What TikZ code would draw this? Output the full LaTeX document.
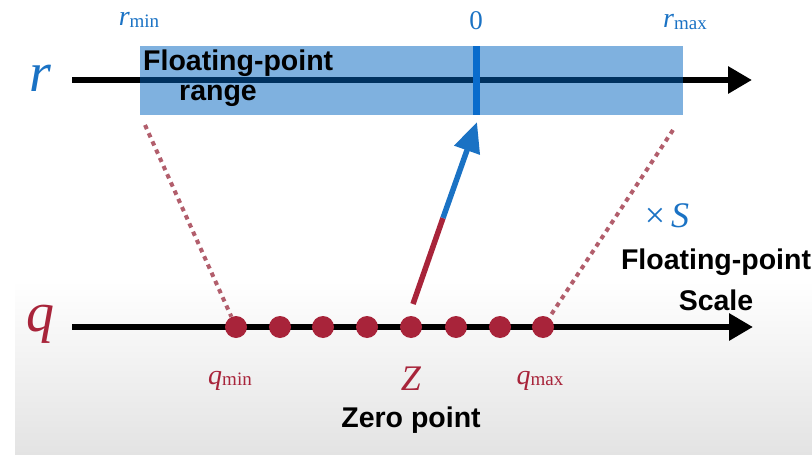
\documentclass[tikz,border=0pt]{standalone}
\usepackage{fontspec}
\setmainfont{Liberation Serif}
\setsansfont{Liberation Sans}
\usetikzlibrary{arrows.meta}
\definecolor{rblue}{HTML}{1A72C4}
\definecolor{tickblue}{HTML}{0A6CCC}
\definecolor{qred}{HTML}{A8243A}
\definecolor{dotred}{HTML}{B25E6C}
\definecolor{rangefill}{rgb}{0,0.39,0.75}
\newcommand{\symb}[3]{{\fontsize{#1}{#1}\selectfont\itshape #2}\raisebox{-0.3ex}{\fontsize{19}{19}\selectfont #3}}
\tikzset{
  axis/.style={line width=6pt,-{Triangle[length=24pt,width=26pt]}},
  qdot/.style={circle,fill=qred,minimum size=22pt,inner sep=0pt},
  dotline/.style={dotred,line width=4pt,dash pattern=on 4.5pt off 4.5pt},
  sansb/.style={font=\fontsize{28.5}{30}\selectfont\sffamily\bfseries,inner sep=0pt},
  lab/.style={inner sep=0pt}
}
\begin{document}
\begin{tikzpicture}[x=1pt,y=-1pt]
\useasboundingbox (0,0) rectangle (812,455);
\shade[top color=white,bottom color=black!11] (15,280) rectangle (812,455);
% r axis
\node[lab,text=rblue] (rlab) at (40,78) {\fontsize{56}{56}\selectfont\itshape r};
\coordinate (rs) at (72,80);
\coordinate (re) at (752,80);
\draw[axis] (rs) -- (re);
\node[fill=rangefill,fill opacity=0.5,minimum width=543pt,minimum height=69pt,inner sep=0pt] (range) at (411.5,80.5) {};
\node[fill=tickblue,minimum width=7pt,minimum height=69pt,inner sep=0pt] (tick) at (476,80.5) {};
\node[sansb,anchor=west] (fp1) at (143,63) {Floating-point};
\node[sansb] (fp2) at (218,96) {range};
\node[lab,text=rblue] (rmin) at (139,20) {\symb{28}{r}{min}};
\node[lab,text=rblue] (zerolab) at (476,21) {\fontsize{27}{27}\selectfont 0};
\node[lab,text=rblue] (rmax) at (685,22) {\symb{28}{r}{max}};
% q axis
\node[lab,text=qred] (qlab) at (41,324) {\fontsize{56}{56}\selectfont\itshape q};
\coordinate (qs) at (72,327);
\coordinate (qe) at (753,327);
\draw[axis] (qs) -- (qe);
\foreach \i/\x in {1/236,2/280,3/323,4/367,5/411,6/456,7/500,8/543}
  \node[qdot] (d\i) at (\x,327) {};
% dotted lines
\coordinate (lt) at (145,125);
\coordinate (rt) at (673,130);
\draw[dotline] (lt) -- (d1);
\draw[dotline] (rt) -- (d8);
% zero-point arrow
\coordinate (zs) at (413,304);
\coordinate (zm) at (443,218);
\coordinate (ztip) at (477,122);
\draw[qred,line width=5.5pt] (zs) -- (zm);
\draw[rblue,line width=5.5pt,-{Triangle[length=30pt,width=26pt]}] (zm) -- (ztip);
% labels
\node[lab,text=qred] (qmin) at (230,381) {\symb{28}{q}{min}};
\node[lab,text=qred] (zlab) at (411,379) {\fontsize{36}{36}\selectfont\itshape Z};
\node[lab,text=qred] (qmax) at (540,381) {\symb{28}{q}{max}};
\node[sansb] (zp) at (411,420) {Zero point};
\node[lab,text=rblue] (xs) at (667,216) {\fontsize{36}{36}\selectfont ×\,\itshape S};
\node[sansb] (fs1) at (716,262) {Floating-point};
\node[sansb] (fs2) at (716,300) {Scale};
\end{tikzpicture}
\end{document}
